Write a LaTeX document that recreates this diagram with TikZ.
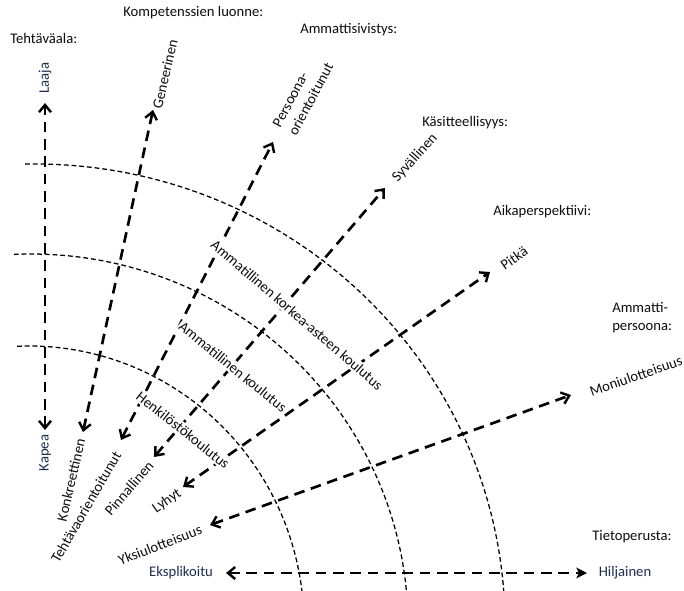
\documentclass[tikz,border=0pt]{standalone}
\usepackage{fontspec}
\setmainfont{Carlito}
\usetikzlibrary{arrows.meta}
\definecolor{navy}{HTML}{1F2D50}
\definecolor{ink}{HTML}{0D0D0D}

\begin{document}
\begin{tikzpicture}[x=0.75pt,y=-0.75pt,
  barb/.tip={Straight Barb[length=5.5pt,width=9pt,line width=1.8pt]},
  axis/.style={line width=2pt, dash pattern=on 8pt off 5pt, barb-barb},
  level/.style={line width=0.95pt, dash pattern=on 3.6pt off 2.2pt},
  txt/.style={inner sep=0pt, font=\fontsize{11}{13.5}\selectfont, text=ink},
  pole/.style={txt},
  head/.style={txt, anchor=west, align=left},
  tier/.style={txt, fill=white, inner sep=1.2pt},
]
\useasboundingbox (0,0) rectangle (684,591);
\clip (0,0) rectangle (684,591);

% education levels as dashed quarter arcs
\draw[level] (29,625) ++(267.5:275 and 279) arc[start angle=267.5,end angle=360,x radius=275,y radius=279];
\draw[level] (31,625) ++(267.4:377 and 371) arc[start angle=267.4,end angle=360,x radius=377,y radius=371];
\draw[level] (35,625) ++(268.8:470 and 461) arc[start angle=268.8,end angle=360,x radius=470,y radius=461];

% end points of the seven dimensions
\coordinate (kapea) at (45,430);   \coordinate (laaja) at (45,103);
\coordinate (konk)  at (83,432);   \coordinate (gen)   at (153,110);
\coordinate (teht)  at (121,440);  \coordinate (pers)  at (273,142);
\coordinate (pinn)  at (154,457);  \coordinate (syv)   at (385,188);
\coordinate (lyhyt) at (183,487);  \coordinate (pitka) at (490,272);
\coordinate (yksi)  at (210,525);  \coordinate (moni)  at (571,395);
\coordinate (ekspl) at (226,573);  \coordinate (hilj)  at (587,573);

\draw[axis] (kapea) -- (laaja);
\draw[axis] (konk) -- (gen);
\draw[axis] (teht) -- (pers);
\draw[axis] (pinn) -- (syv);
\draw[axis] (lyhyt) -- (pitka);
\draw[axis] (yksi) -- (moni);
\draw[axis, barb-{Stealth[length=8pt,width=8pt,inset=2pt]}] (ekspl) -- (hilj);

% level names along the arcs
\node[tier, rotate=-40.7] (korkea) at (297,315) {Ammatillinen korkea-asteen koulutus};
\node[tier, rotate=-39.3] (ammat) at (233,367) {Ammatillinen koulutus};
\node[tier, rotate=-38.5] (henk) at (183,430) {Henkilöstökoulutus};

% pole labels
\node[pole, rotate=90, text=navy] (lLaaja) at (45,78) {Laaja};
\node[pole, rotate=90, text=navy] (lKapea) at (45,453) {Kapea};
\node[pole, rotate=77] (lGen) at (165,74) {Geneerinen};
\node[pole, rotate=77] (lKonk) at (71,480) {Konkreettinen};
\node[pole, rotate=60] (lTeht) at (86,507) {Tehtävaorientoitunut};
\node[pole, rotate=62, align=left] (lPers) at (303,95) {Persoona-\\orientoitunut};
\node[pole, rotate=48] (lSyv) at (415,158) {Syvällinen};
\node[pole, rotate=49] (lPinn) at (129,488) {Pinnallinen};
\node[pole, rotate=35] (lPitka) at (514,258) {Pitkä};
\node[pole, rotate=35] (lLyhyt) at (167,501) {Lyhyt};
\node[pole, rotate=19] (lMoni) at (636,376) {Moniulotteisuus};
\node[pole, rotate=21] (lYksi) at (160,545) {Yksiulotteisuus};
\node[pole, text=navy] (lEkspl) at (181,573) {Eksplikoitu};
\node[pole, text=navy] (lHilj) at (625,573) {Hiljainen};

% dimension headings
\node[head] (hTeht) at (10,38) {Tehtäväala:};
\node[head] (hKomp) at (123,13) {Kompetenssien luonne:};
\node[head] (hSiv) at (300,30) {Ammattisivistys:};
\node[head] (hKas) at (422,123) {Käsitteellisyys:};
\node[head] (hAika) at (493,212) {Aikaperspektiivi:};
\node[head] (hPers) at (612,318) {Ammatti-\\persoona:};
\node[head] (hTieto) at (592,537) {Tietoperusta:};
\end{tikzpicture}
\end{document}
